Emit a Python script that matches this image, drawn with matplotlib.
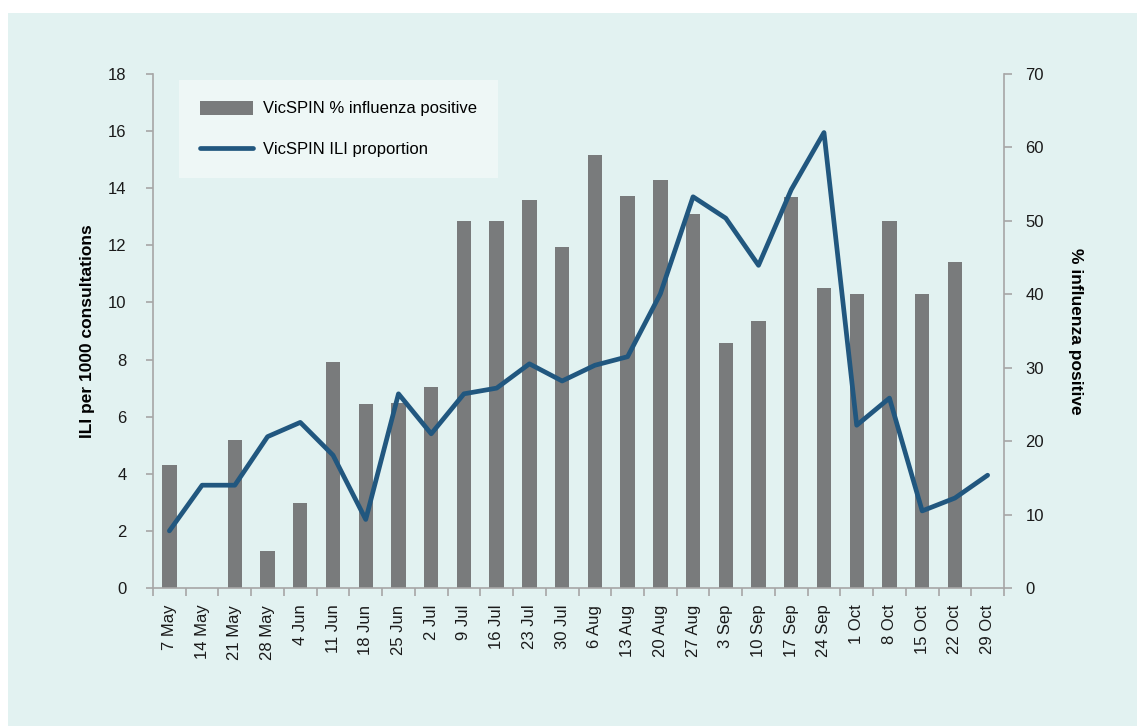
import numpy as np
import matplotlib.pyplot as plt
from matplotlib.patches import Rectangle

weeks = ["7 May", "14 May", "21 May", "28 May", "4 Jun", "11 Jun", "18 Jun",
         "25 Jun", "2 Jul", "9 Jul", "16 Jul", "23 Jul", "30 Jul", "6 Aug",
         "13 Aug", "20 Aug", "27 Aug", "3 Sep", "10 Sep", "17 Sep", "24 Sep",
         "1 Oct", "8 Oct", "15 Oct", "22 Oct", "29 Oct"]

# % influenza positive (right axis)
pct_positive = [16.7, 0, 20.1, 5.1, 11.6, 30.8, 25.1, 25.2, 27.4, 50.0,
                50.0, 52.9, 46.4, 59.0, 53.4, 55.6, 51.0, 33.4, 36.3, 53.2,
                40.9, 40.1, 50.0, 40.1, 44.4, 0]

# ILI per 1000 consultations (left axis)
ili_rate = [2.0, 3.6, 3.6, 5.3, 5.8, 4.65, 2.4, 6.8, 5.4, 6.8, 7.0, 7.85,
            7.25, 7.8, 8.1, 10.3, 13.7, 12.95, 11.3, 13.95, 15.95, 5.7,
            6.65, 2.7, 3.15, 3.95]

plt.rcParams['font.family'] = ['Liberation Sans', 'DejaVu Sans']

bar_col = "#797b7c"
line_col = "#21577f"
spine_col = "#a6a6a6"
bg_col = "#e2f2f1"

fig = plt.figure(figsize=(11.37, 7.26), dpi=100)
fig.patches.append(Rectangle((8 / 1137, 0), 1, 1 - 13 / 726, transform=fig.transFigure,
                             facecolor=bg_col, edgecolor="none", zorder=-10))

ax1 = fig.add_axes([153 / 1137, 1 - 588 / 726, (1004 - 153) / 1137, (588 - 74) / 726])
ax2 = ax1.twinx()

x = np.arange(len(weeks))
bars = ax2.bar(x, pct_positive, width=0.44, color=bar_col, zorder=2,
               label="VicSPIN % influenza positive")
line, = ax1.plot(x, ili_rate, color=line_col, lw=3.4, solid_capstyle="round",
                 solid_joinstyle="round", label="VicSPIN ILI proportion")

ax1.set_zorder(ax2.get_zorder() + 1)
ax1.patch.set_visible(False)
ax2.patch.set_visible(False)

ax1.set_xlim(-0.5, len(weeks) - 0.5)
ax1.set_ylim(0, 18)
ax2.set_ylim(0, 70)
ax1.set_yticks(range(0, 19, 2))
ax2.set_yticks(range(0, 71, 10))

ax1.set_xticks(x)
ax1.set_xticklabels(weeks, rotation=90, fontsize=12, color="#1a1a1a")
ax1.set_xticks(np.arange(-0.5, len(weeks)), minor=True)
ax1.tick_params(axis="x", which="major", length=0, pad=12)
ax1.tick_params(axis="x", which="minor", length=5.5, color=spine_col, width=1.2)

ax1.tick_params(axis="y", length=5, color=spine_col, width=1.2, labelsize=12,
                labelcolor="#1a1a1a", pad=14)
ax2.tick_params(axis="y", length=5.5, color=spine_col, width=1.2, labelsize=12,
                labelcolor="#1a1a1a", pad=10)

for ax in (ax1, ax2):
    ax.spines["top"].set_visible(False)
    for s in ("left", "right", "bottom"):
        ax.spines[s].set_color(spine_col)
        ax.spines[s].set_linewidth(1.2)
ax1.spines["right"].set_visible(False)
ax2.spines["left"].set_visible(False)
ax2.spines["bottom"].set_visible(False)

ax1.set_ylabel("ILI per 1000 consultations", fontsize=12.5, fontweight="bold", labelpad=9)
ax2.set_ylabel("% influenza positive", fontsize=12.5, fontweight="bold",
               rotation=270, labelpad=28)

leg = ax1.legend([bars, line], [bars.get_label(), line.get_label()],
                 loc="upper left", bbox_to_anchor=(26 / 851, 1 - 6 / 514),
                 fontsize=12, frameon=True, fancybox=False, borderpad=1.25,
                 labelspacing=1.5, handlelength=3.2, handleheight=0.9,
                 handletextpad=0.6, borderaxespad=0)
leg.get_frame().set_facecolor("#eef7f6")
leg.get_frame().set_edgecolor("none")
leg.get_frame().set_alpha(1)

fig.savefig("out.png", dpi=100)
